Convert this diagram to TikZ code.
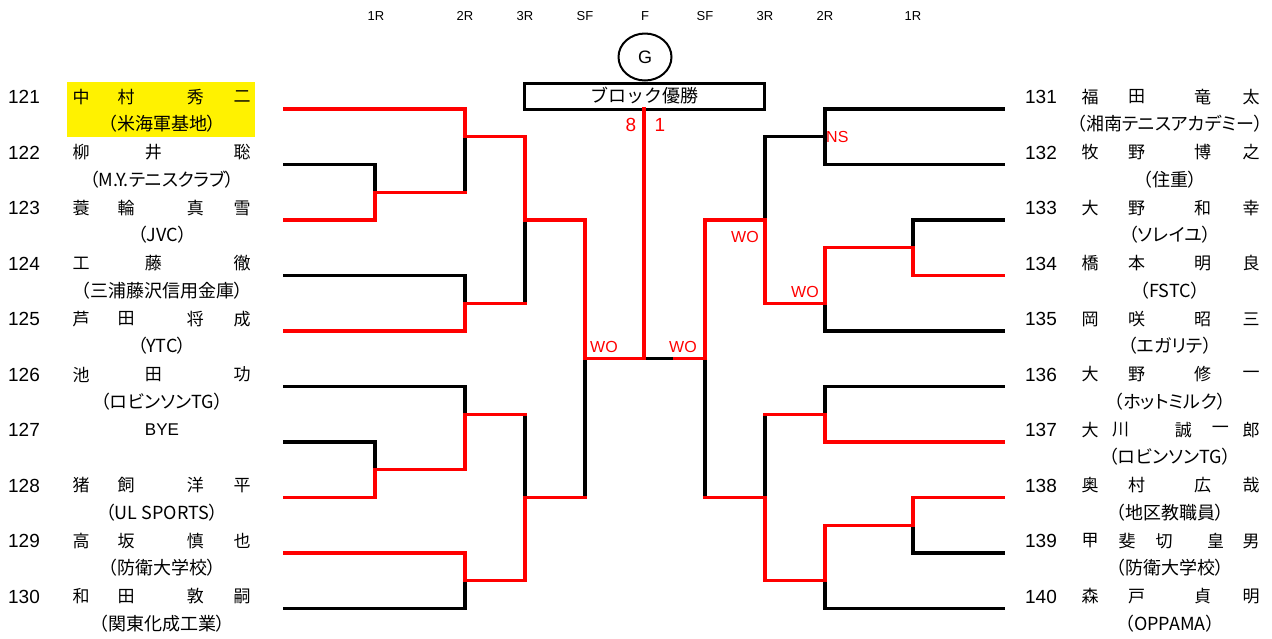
\documentclass[tikz,border=0pt]{standalone}
\usepackage{fontspec}
\setmainfont{Liberation Sans}
\newfontfamily\jp{Noto Sans CJK JP}
\newfontfamily\jpp{Noto Sans CJK JP}[RawFeature={+palt}]
\usetikzlibrary{shapes.geometric}
\tikzset{
  bk/.style={line width=3.2pt, black, line cap=rect, line join=miter},
  rd/.style={line width=3.2pt, red, line cap=rect, line join=miter},
  num/.style={font=\fontsize{19}{19}\selectfont, inner sep=0pt},
  nmchar/.style={font=\jp\fontsize{17}{17}\selectfont, inner sep=0pt},
  org/.style={font=\jpp\fontsize{18}{18}\selectfont, inner sep=0pt},
  hdr/.style={font=\fontsize{13}{13}\selectfont, inner sep=0pt},
  lbl/.style={font=\fontsize{16}{16}\selectfont, text=red, inner sep=0pt},
}
% #1 prefix, #2 x of first char, #3 y, #4 list char/fraction
\newcommand\nmrow[4]{%
  \foreach \c/\f [count=\i] in {#4} \node[nmchar] (#1-\i) at ({#2+161*\f},#3) {\c};}
\begin{document}
\begin{tikzpicture}[x=1pt,y=-1pt]
\useasboundingbox (0,0) rectangle (1272,638);
\fill[white] (0,0) rectangle (1272,638);
% highlight
\fill[yellow] (67,82) rectangle (255,137);

% headers
\foreach \t/\x [count=\i] in {1R/376,2R/465,3R/525,SF/585,F/645,SF/705,3R/765,2R/825,1R/913}
  \node[hdr] (h\i) at (\x,16) {\t};

% title
\node[ellipse, draw, line width=2pt, minimum width=53pt, minimum height=47pt, inner sep=0pt,
      font=\fontsize{18}{18}\selectfont] (gmark) at (645,57) {G};
\node[draw, line width=3pt, outer sep=0pt, minimum width=240pt, minimum height=26pt, inner sep=0pt,
      font=\jp\fontsize{18}{18}\selectfont] (box) at (644,96) {ブロック優勝};
\node[lbl, font=\fontsize{19}{19}\selectfont] (s8) at (631,125) {8};
\node[lbl, font=\fontsize{19}{19}\selectfont] (s1) at (660,125) {1};

% ---------- left bracket: black ----------
\draw[bk] (285,164.5) -- (375,164.5) -- (375,192.25);
\draw[bk] (465,136.75) -- (465,192.25);
\draw[bk] (285,275.5) -- (465,275.5) -- (465,303.25);
\draw[bk] (525,220) -- (525,303.25);
\draw[bk] (285,386.5) -- (465,386.5) -- (465,414.25);
\draw[bk] (285,442) -- (375,442) -- (375,469.75);
\draw[bk] (285,608.5) -- (465,608.5) -- (465,580.75);
\draw[bk] (525,414.25) -- (525,497.5);
\draw[bk] (585,358.75) -- (585,497.5);
\draw[bk] (644,358.75) -- (675,358.75);
% ---------- right bracket: black ----------
\draw[bk] (1003,109) -- (825,109) -- (825,164.5) -- (1003,164.5);
\draw[bk] (825,136.75) -- (765,136.75) -- (765,220);
\draw[bk] (1003,220) -- (913,220) -- (913,247.75);
\draw[bk] (1003,331) -- (825,331) -- (825,303.25);
\draw[bk] (1003,386.5) -- (825,386.5) -- (825,414.25);
\draw[bk] (765,414.25) -- (765,497.5);
\draw[bk] (1003,553) -- (913,553) -- (913,525.25);
\draw[bk] (1003,608.5) -- (825,608.5) -- (825,580.75);
\draw[bk] (705,358.75) -- (705,497.5);

% ---------- left bracket: red ----------
\draw[rd] (285,220) -- (375,220) -- (375,192.25) -- (465,192.25);
\draw[rd] (285,331) -- (465,331) -- (465,303.25) -- (525,303.25);
\draw[rd] (285,497.5) -- (375,497.5) -- (375,469.75) -- (465,469.75) -- (465,414.25) -- (525,414.25);
\draw[rd] (285,553) -- (465,553) -- (465,580.75) -- (525,580.75) -- (525,497.5) -- (585,497.5);
\draw[rd] (285,109) -- (465,109) -- (465,136.75) -- (525,136.75) -- (525,220) -- (585,220)
          -- (585,358.75) -- (644,358.75) -- (box.south);
% ---------- right bracket: red ----------
\draw[rd] (1003,275.5) -- (913,275.5) -- (913,247.75) -- (825,247.75) -- (825,303.25)
          -- (765,303.25) -- (765,220) -- (705,220) -- (705,358.75) -- (675,358.75);
\draw[rd] (1003,442) -- (825,442) -- (825,414.25) -- (765,414.25);
\draw[rd] (1003,497.5) -- (913,497.5) -- (913,525.25) -- (825,525.25) -- (825,580.75)
          -- (765,580.75) -- (765,497.5) -- (705,497.5);

% result labels
\node[lbl] (wo1) at (604,347) {WO};
\node[lbl] (wo2) at (683,347) {WO};
\node[lbl] (wo3) at (745,237) {WO};
\node[lbl] (wo4) at (805,292) {WO};
\node[lbl, anchor=west] (ns1) at (826,137) {NS};

% ---------- left players ----------
\foreach \n [count=\i from 0] in {121,122,123,124,125,126,127,128,129,130}
  \node[num] (ln\n) at (24,{97+55.5*\i}) {\n};
\nmrow{p121}{81}{97}{中/0,村/0.28,秀/0.71,二/1}
\nmrow{p122}{81}{152.5}{柳/0,井/0.45,聡/1}
\nmrow{p123}{81}{208}{蓑/0,輪/0.28,真/0.71,雪/1}
\nmrow{p124}{81}{263.5}{工/0,藤/0.45,徹/1}
\nmrow{p125}{81}{319}{芦/0,田/0.28,将/0.71,成/1}
\nmrow{p126}{81}{374.5}{池/0,田/0.45,功/1}
\node[font=\fontsize{17}{17}\selectfont, inner sep=0pt] (p127) at (162,430) {BYE};
\nmrow{p128}{81}{485.5}{猪/0,飼/0.28,洋/0.71,平/1}
\nmrow{p129}{81}{541}{高/0,坂/0.28,慎/0.71,也/1}
\nmrow{p130}{81}{596.5}{和/0,田/0.28,敦/0.71,嗣/1}
\node[org] (o121) at (162,124) {（米海軍基地）};
\node[org] (o122) at (162,179.5) {（M.Y.テニスクラブ）};
\node[org] (o123) at (162,235) {（JVC）};
\node[org] (o124) at (162,290.5) {（三浦藤沢信用金庫）};
\node[org] (o125) at (162,346) {（YTC）};
\node[org] (o126) at (162,401.5) {（ロビンソンTG）};
\node[org] (o128) at (162,512.5) {（UL SPORTS）};
\node[org] (o129) at (162,568) {（防衛大学校）};
\node[org] (o130) at (162,623.5) {（関東化成工業）};

% ---------- right players ----------
\foreach \n [count=\i from 0] in {131,132,133,134,135,136,137,138,139,140}
  \node[num] (rn\n) at (1041,{97+55.5*\i}) {\n};
\nmrow{p131}{1090}{97}{福/0,田/0.29,竜/0.70,太/1}
\nmrow{p132}{1090}{152.5}{牧/0,野/0.29,博/0.70,之/1}
\nmrow{p133}{1090}{208}{大/0,野/0.29,和/0.70,幸/1}
\nmrow{p134}{1090}{263.5}{橋/0,本/0.29,明/0.70,良/1}
\nmrow{p135}{1090}{319}{岡/0,咲/0.29,昭/0.70,三/1}
\nmrow{p136}{1090}{374.5}{大/0,野/0.29,修/0.70,一/1}
\nmrow{p137}{1090}{430}{大/0,川/0.19,誠/0.58,一/0.81,郎/1}
\nmrow{p138}{1090}{485.5}{奥/0,村/0.29,広/0.70,哉/1}
\nmrow{p139}{1090}{541}{甲/0,斐/0.23,切/0.46,皇/0.78,男/1}
\nmrow{p140}{1090}{596.5}{森/0,戸/0.29,貞/0.70,明/1}
\node[org] (o131) at (1170,124) {（湘南テニスアカデミー）};
\node[org] (o132) at (1170,179.5) {（住重）};
\node[org] (o133) at (1170,235) {（ソレイユ）};
\node[org] (o134) at (1170,290.5) {（FSTC）};
\node[org] (o135) at (1170,346) {（エガリテ）};
\node[org] (o136) at (1170,401.5) {（ホットミルク）};
\node[org] (o137) at (1170,457) {（ロビンソンTG）};
\node[org] (o138) at (1170,512.5) {（地区教職員）};
\node[org] (o139) at (1170,568) {（防衛大学校）};
\node[org] (o140) at (1170,623.5) {（OPPAMA）};
\end{tikzpicture}
\end{document}
